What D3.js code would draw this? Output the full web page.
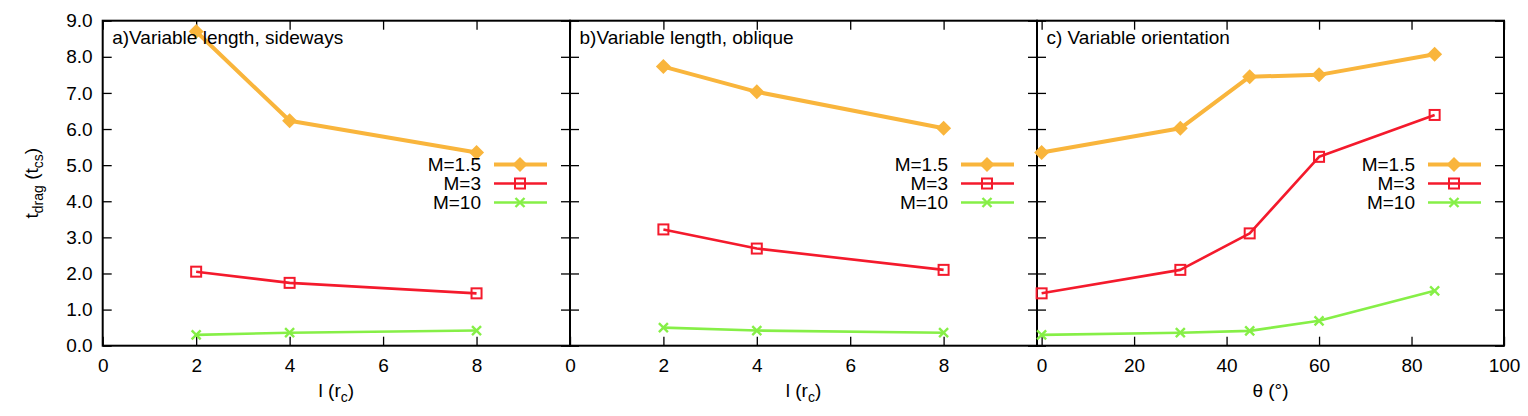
<!DOCTYPE html>
<html>
  <head>
    <meta charset="utf-8">
    <title>Drag time</title>
    <script src="https://d3js.org/d3.v7.min.js"></script>
    <style>
      body { margin: 0; background: #fff; }
      svg text { font-family: "Liberation Sans", Arial, sans-serif; font-size: 19px; fill: #000; }
      .tick line { stroke: #000; stroke-width: 1.3; }
    </style>
  </head>
  <body>
    <svg id="chart" width="1528" height="416"></svg>
    <script>
      // data
      seriesNames = ["M=1.5", "M=3", "M=10"];
      panelTitles = ["a)Variable length, sideways", "b)Variable length, oblique", "c) Variable orientation"];
      lengthX = [2, 4, 8];
      angleX = [0, 30, 45, 60, 85];
      sidewaysM15 = [8.70, 6.23, 5.35];
      sidewaysM3 = [2.05, 1.74, 1.45];
      sidewaysM10 = [0.30, 0.36, 0.42];
      obliqueM15 = [7.73, 7.03, 6.02];
      obliqueM3 = [3.22, 2.69, 2.10];
      obliqueM10 = [0.50, 0.42, 0.36];
      orientM15 = [5.35, 6.02, 7.45, 7.50, 8.07];
      orientM3 = [1.45, 2.10, 3.11, 5.23, 6.39];
      orientM10 = [0.30, 0.36, 0.41, 0.69, 1.52];
      yTicks = [0, 1, 2, 3, 4, 5, 6, 7, 8, 9];
      lengthTicks = [0, 2, 4, 6, 8];
      angleTicks = [0, 20, 40, 60, 80, 100];

      // page elements
      svg = d3.select("#chart");
      plotTop = 20.7;
      plotBottom = 345.7;
      edges = [102.7, 570, 1037, 1504];
      colors = ["#f9b53c", "#f41a2c", "#86ef47"];
      widths = [4, 2.6, 2.6];

      panels = [
        { x: lengthX, ys: [sidewaysM15, sidewaysM3, sidewaysM10], domain: [0, 10], ticks: lengthTicks, label: "l" },
        { x: lengthX, ys: [obliqueM15, obliqueM3, obliqueM10], domain: [0, 10], ticks: lengthTicks, label: "l" },
        { x: angleX, ys: [orientM15, orientM3, orientM10], domain: [-1, 100], ticks: angleTicks, label: "θ" }
      ];

      y = d3.scaleLinear().domain([0, 9]).range([plotBottom, plotTop]);

      function marker(g, s, cx, cy) {
        if (s === 0) {
          g.append("path")
            .attr("d", "M" + cx + "," + (cy - 7.5) + "L" + (cx + 7.5) + "," + cy + "L" + cx + "," + (cy + 7.5) + "L" + (cx - 7.5) + "," + cy + "Z")
            .attr("fill", colors[0]);
        } else if (s === 1) {
          g.append("rect")
            .attr("x", cx - 5).attr("y", cy - 5).attr("width", 10).attr("height", 10)
            .attr("fill", "none").attr("stroke", colors[1]).attr("stroke-width", 2);
        } else {
          g.append("path")
            .attr("d", "M" + (cx - 4.5) + "," + (cy - 4.5) + "L" + (cx + 4.5) + "," + (cy + 4.5) + "M" + (cx - 4.5) + "," + (cy + 4.5) + "L" + (cx + 4.5) + "," + (cy - 4.5))
            .attr("stroke", colors[2]).attr("stroke-width", 2.4);
        }
      }

      panels.forEach(function(p, i) {
        var left = edges[i];
        var right = edges[i + 1];
        var x = d3.scaleLinear().domain(p.domain).range([left, right]);
        var g = svg.append("g");

        // ticks on all four sides, pointing inward
        var xb = g.append("g").attr("transform", "translate(0," + plotBottom + ")")
          .call(d3.axisBottom(x).tickValues(p.ticks).tickSize(-9).tickPadding(13).tickFormat(d3.format("d")));
        var xt = g.append("g").attr("transform", "translate(0," + plotTop + ")")
          .call(d3.axisTop(x).tickValues(p.ticks).tickSize(-9).tickFormat(""));
        var yl = g.append("g").attr("transform", "translate(" + left + ",0)")
          .call(d3.axisLeft(y).tickValues(yTicks).tickSize(-9).tickPadding(10)
            .tickFormat(i === 0 ? d3.format(".1f") : function() { return ""; }));
        var yr = g.append("g").attr("transform", "translate(" + right + ",0)")
          .call(d3.axisRight(y).tickValues(yTicks).tickSize(-9).tickFormat(""));
        [xb, xt, yl, yr].forEach(function(a) {
          a.select(".domain").remove();
          a.attr("font-size", null).attr("font-family", null);
        });

        g.append("rect")
          .attr("x", left).attr("y", plotTop)
          .attr("width", right - left).attr("height", plotBottom - plotTop)
          .attr("fill", "none").attr("stroke", "#000").attr("stroke-width", 2);

        // series
        p.ys.forEach(function(vals, s) {
          var line = d3.line()
            .x(function(d, k) { return x(p.x[k]); })
            .y(function(d) { return y(d); });
          g.append("path")
            .datum(vals)
            .attr("d", line)
            .attr("fill", "none")
            .attr("stroke", colors[s])
            .attr("stroke-width", widths[s])
            .attr("stroke-linejoin", "round");
          vals.forEach(function(v, k) { marker(g, s, x(p.x[k]), y(v)); });
        });

        // key
        seriesNames.forEach(function(name, s) {
          var ky = 164.5 + s * 19;
          g.append("text")
            .attr("x", right - 89).attr("y", ky)
            .attr("dy", "0.36em")
            .attr("text-anchor", "end")
            .text(name);
          g.append("line")
            .attr("x1", right - 76).attr("x2", right - 23)
            .attr("y1", ky).attr("y2", ky)
            .attr("stroke", colors[s]).attr("stroke-width", widths[s]);
          marker(g, s, right - 50, ky);
        });

        // panel title
        g.append("text")
          .attr("x", left + 9.5).attr("y", 43.5)
          .text(panelTitles[i]);

        // x axis title
        var xl = g.append("text")
          .attr("x", (left + right) / 2).attr("y", 396.5)
          .attr("text-anchor", "middle");
        if (p.label === "l") {
          xl.append("tspan").text("l (r");
          xl.append("tspan").attr("font-size", "14px").attr("dy", 5).text("c");
          xl.append("tspan").attr("dy", -5).text(")");
        } else {
          xl.text("θ (°)");
        }
      });

      // y axis title
      yt = svg.append("text")
        .attr("transform", "translate(37.5," + (plotTop + plotBottom) / 2 + ") rotate(-90)")
        .attr("text-anchor", "middle");
      yt.append("tspan").text("t");
      yt.append("tspan").attr("font-size", "14px").attr("dy", 5).text("drag");
      yt.append("tspan").attr("dy", -5).text(" (t");
      yt.append("tspan").attr("font-size", "14px").attr("dy", 5).text("cs");
      yt.append("tspan").attr("dy", -5).text(")");
    </script>
  </body>
</html>
